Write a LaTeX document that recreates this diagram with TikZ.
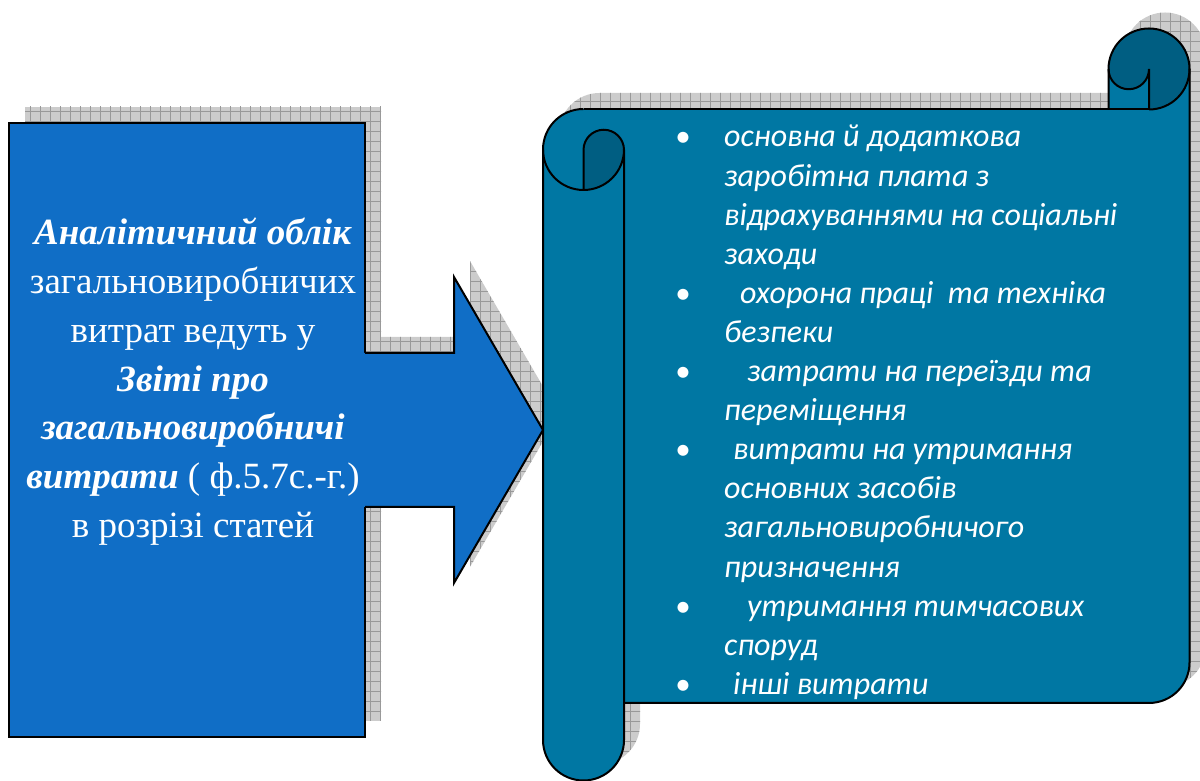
\documentclass[tikz,border=0pt]{standalone}
\usepackage{fontspec}
\setmainfont{Liberation Serif}
\newfontfamily\calibrifont{Carlito}
\usetikzlibrary{patterns.meta}

\definecolor{boxblue}{RGB}{16,110,198}
\definecolor{scrollteal}{RGB}{0,119,163}
\definecolor{rolldark}{RGB}{0,94,130}
\definecolor{shadowgray}{RGB}{204,204,204}

\tikzset{
  outline/.style={draw=black, line width=2pt, line join=miter},
  shadowfill/.style={fill=shadowgray, postaction={pattern={Hatch[distance=10pt,line width=0.6pt]}, pattern color=gray!80}},
  lefttext/.style={text=white, font=\fontsize{37}{44}\selectfont, anchor=base, inner sep=0pt},
  itemtext/.style={text=white, font=\calibrifont\itshape\fontsize{32}{39}\selectfont, anchor=base west, inner sep=0pt},
  bullet/.style={text=white, font=\calibrifont\fontsize{31}{38}\selectfont, anchor=base, inner sep=0pt}
}

% outline of the scroll, used for its shadow and its fill
\newcommand{\scrollshape}{(543,631) -- (543,41) arc[start angle=180, end angle=360, radius=40.5]
  -- (624,78) -- (1149,78) arc[start angle=270, end angle=360, radius=40.5]
  -- (1189.5,712) arc[start angle=0, end angle=180, radius=40.5]
  -- (1108.5,672) -- (583.5,672) arc[start angle=90, end angle=180, radius=40.5] -- cycle}

\begin{document}
\begin{tikzpicture}[x=1pt, y=1pt]

    \useasboundingbox (0,0) rectangle (1200,781);

    % left box
    \fill[shadowfill] (25,60) rectangle (381,674);
    \fill[boxblue] (9,44) rectangle (365,658);
    \draw[outline] (9,44) rectangle (365,658);

    % block arrow
    \fill[shadowfill] (381,444) -- (470,444) -- (470,520) -- (559,367) -- (470,214) -- (470,290) -- (381,290) -- cycle;
    \fill[boxblue] (360,428) -- (454,428) -- (454,504) -- (543,351) -- (454,198) -- (454,274) -- (360,274) -- cycle;
    \draw[outline] (365,428) -- (454,428) -- (454,504) -- (543,351) -- (454,198) -- (454,274) -- (365,274);

    % scroll
    \fill[shadowfill, shift={(16,16)}] \scrollshape;
    \fill[scrollteal] \scrollshape;
    \fill[rolldark] (583.5,631) arc[start angle=180, end angle=0, radius=20.25] arc[start angle=0, end angle=-90, radius=40.5] -- cycle;
    \fill[rolldark] (1149,671.5) arc[start angle=-90, end angle=180, radius=40.5] arc[start angle=180, end angle=360, radius=20.25] -- cycle;

    \draw[outline] (583.5,672) arc[start angle=90, end angle=360, radius=40.5];
    \draw[outline] (543,631) -- (543,41) arc[start angle=180, end angle=360, radius=40.5] -- (624,631);
    \draw[outline] (583.5,590.5) -- (583.5,631) arc[start angle=180, end angle=0, radius=20.25];
    \draw[outline] (583.5,672) -- (1149,672);
    \draw[outline] (624,78) -- (1149,78) arc[start angle=270, end angle=360, radius=40.5] -- (1189.5,712);
    \draw[outline] (1149,671.5) arc[start angle=-90, end angle=180, radius=40.5] -- (1108.5,672);
    \draw[outline] (1108.5,712) arc[start angle=180, end angle=360, radius=20.25] -- (1149,671.5);

    % text of the box
    \foreach \txt [count=\i] in {{\textbf{\textit{Аналітичний облік}}}, загальновиробничих, витрат ведуть у,
        {\textbf{\textit{Звіті про}}}, {\textbf{\textit{загальновиробничі}}},
        {\textbf{\textit{витрати}} ( ф.5.7с.-г.)}, в розрізі статей}
      \node[lefttext] (left\i) at (193, {536-48.7*(\i-1)}) {\txt};

    % list on the scroll
    \foreach \txt [count=\i] in {основна й додаткова, заробітна плата з, відрахуваннями на соціальні, заходи,
        {\hspace{16pt}охорона праці\ \ та техніка}, безпеки,
        {\hspace{23pt}затрати на переїзди та}, переміщення,
        {\hspace{9pt}витрати на утримання}, основних засобів, загальновиробничого, призначення,
        {\hspace{23pt}утримання тимчасових}, споруд,
        {\hspace{9pt}інші витрати}}
      \node[itemtext] (item\i) at (724, {634-39.1*(\i-1)}) {\txt};
    \foreach \i in {1,5,7,9,13,15}
      \node[bullet] (dot\i) at (683, {634-39.1*(\i-1)}) {\textbullet};

\end{tikzpicture}
\end{document}
